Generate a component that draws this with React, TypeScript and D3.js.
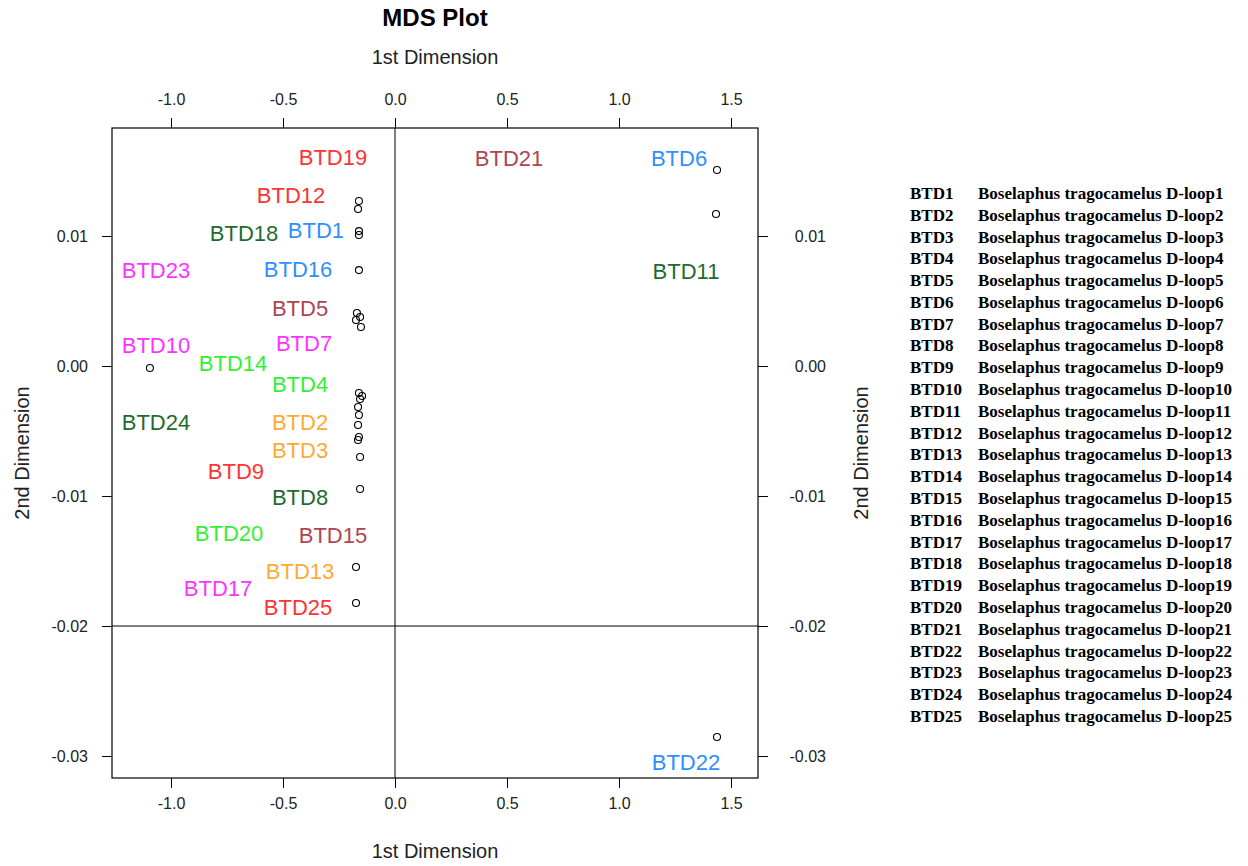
import { useEffect, useRef } from "react";
import * as d3 from "d3";

// MDS coordinates of each sample (1st and 2nd dimension)
const names = [
  "BTD1", "BTD2", "BTD3", "BTD4", "BTD5", "BTD6", "BTD7", "BTD8", "BTD9", "BTD10",
  "BTD11", "BTD12", "BTD13", "BTD14", "BTD15", "BTD16", "BTD17", "BTD18", "BTD19", "BTD20",
  "BTD21", "BTD22", "BTD23", "BTD24", "BTD25",
];
const dim1 = [
  -0.161, -0.165, -0.161, -0.147, -0.156, 1.4375, -0.174, -0.161, -0.165, -1.094,
  1.433, -0.165, -0.174, -0.161, -0.156, -0.161, -0.156, -0.161, -0.161, -0.165,
  -0.152, 1.4375, -0.17, -0.156, -0.174,
];
const dim2 = [
  0.01008, -0.00315, -0.00377, -0.00231, 0.00377, 0.01508, 0.00354, -0.00546, -0.00454, -0.00015,
  0.01169, 0.01208, -0.01546, -0.00208, -0.007, 0.00738, -0.00946, 0.01038, 0.01269, -0.00569,
  0.003, -0.02854, 0.00408, -0.00254, -0.01823,
];

// where each text label was placed (same units as the axes)
const labelX = [
  -0.353, -0.424, -0.424, -0.424, -0.424, 1.268, -0.406, -0.424, -0.71, -1.067,
  1.299, -0.464, -0.424, -0.723, -0.277, -0.433, -0.79, -0.674, -0.277, -0.741,
  0.509, 1.299, -1.067, -1.067, -0.433,
];
const labelY = [
  0.01046, -0.00431, -0.00646, -0.00138, 0.00446, 0.016, 0.00177, -0.01008, -0.00808, 0.00162,
  0.00731, 0.01315, -0.01577, 0.00023, -0.013, 0.00746, -0.01708, 0.01023, 0.01608, -0.01285,
  0.016, -0.03046, 0.00738, -0.00431, -0.01854,
];
const labelColors = [
  "#2f8fff", "#ffaa33", "#ffaa33", "#33f033", "#b04450", "#2f8fff", "#ff33ff", "#1f6b2f", "#ff3333", "#ff33ff",
  "#1f6b2f", "#ff3333", "#ffaa33", "#33f033", "#b04450", "#2f8fff", "#ff33ff", "#1f6b2f", "#ff3333", "#33f033",
  "#b04450", "#2f8fff", "#ff33ff", "#1f6b2f", "#ff3333",
];

const xTicks = [-1.0, -0.5, 0.0, 0.5, 1.0, 1.5];
const yTicks = [0.01, 0.0, -0.01, -0.02, -0.03];

const WIDTH = 1248;
const HEIGHT = 866;

export default function App() {
  const svgRef = useRef<SVGSVGElement>(null);

  useEffect(() => {
    if (!svgRef.current) return;
    const svg = d3.select(svgRef.current);
    svg.selectAll("*").remove();

    const left = 112, right = 758, top = 128, bottom = 778;
    const font = "'Liberation Sans', Arial, sans-serif";

    const x = d3.scaleLinear().domain([-1.2634, 1.6205]).range([left, right]);
    const y = d3.scaleLinear().domain([-0.03169, 0.01831]).range([bottom, top]);

    svg.append("rect")
      .attr("width", WIDTH).attr("height", HEIGHT).attr("fill", "#fff");

    // axes on all four sides
    const styleAxis = (sel: any) => {
      sel.select(".domain").remove();
      sel.selectAll(".tick line").attr("stroke", "#000").attr("stroke-width", 1);
      sel.selectAll("text")
        .attr("fill", "#222")
        .attr("font-family", font)
        .attr("font-size", "16px");
    };

    svg.append("g")
      .attr("transform", `translate(0,${top})`)
      .call(d3.axisTop(x).tickValues(xTicks).tickSize(10).tickPadding(13).tickFormat((d: any) => d.toFixed(1)))
      .call(styleAxis);

    svg.append("g")
      .attr("transform", `translate(0,${bottom})`)
      .call(d3.axisBottom(x).tickValues(xTicks).tickSize(10).tickPadding(10).tickFormat((d: any) => d.toFixed(1)))
      .call(styleAxis);

    svg.append("g")
      .attr("transform", `translate(${left},0)`)
      .call(d3.axisLeft(y).tickValues(yTicks).tickSize(10).tickPadding(14).tickFormat((d: any) => d.toFixed(2)))
      .call(styleAxis);

    // right-hand labels are right-aligned in the original
    const rightAxis = svg.append("g")
      .attr("transform", `translate(${right},0)`)
      .call(d3.axisRight(y).tickValues(yTicks).tickSize(10).tickPadding(58).tickFormat((d: any) => d.toFixed(2)))
      .call(styleAxis);
    rightAxis.selectAll("text").attr("text-anchor", "end");

    // box and reference lines
    svg.append("rect")
      .attr("x", left).attr("y", top)
      .attr("width", right - left).attr("height", bottom - top)
      .attr("fill", "none").attr("stroke", "#000").attr("stroke-width", 1.2);

    svg.append("line")
      .attr("x1", x(0)).attr("x2", x(0)).attr("y1", top).attr("y2", bottom)
      .attr("stroke", "#000");
    svg.append("line")
      .attr("x1", left).attr("x2", right).attr("y1", y(-0.02)).attr("y2", y(-0.02))
      .attr("stroke", "#000");

    // titles
    svg.append("text")
      .attr("x", (left + right) / 2).attr("y", 26)
      .attr("text-anchor", "middle")
      .attr("font-family", font).attr("font-weight", "bold").attr("font-size", "24px")
      .text("MDS Plot");

    const axisTitle = (tx: number, ty: number, rot: number, label: string) =>
      svg.append("text")
        .attr("transform", `translate(${tx},${ty}) rotate(${rot})`)
        .attr("text-anchor", "middle")
        .attr("fill", "#222")
        .attr("font-family", font).attr("font-size", "20px")
        .text(label);

    axisTitle((left + right) / 2, 64, 0, "1st Dimension");
    axisTitle((left + right) / 2, 858, 0, "1st Dimension");
    axisTitle(29, (top + bottom) / 2, -90, "2nd Dimension");
    axisTitle(868, (top + bottom) / 2, -90, "2nd Dimension");

    // labels
    svg.append("g")
      .selectAll("text")
      .data(names)
      .join("text")
      .attr("x", (_, i) => x(labelX[i]))
      .attr("y", (_, i) => y(labelY[i]))
      .attr("dy", "0.36em")
      .attr("text-anchor", "middle")
      .attr("font-family", font)
      .attr("font-size", "22px")
      .attr("fill", (_, i) => labelColors[i])
      .text((d) => d);

    // points
    svg.append("g")
      .selectAll("circle")
      .data(names)
      .join("circle")
      .attr("cx", (_, i) => x(dim1[i]))
      .attr("cy", (_, i) => y(dim2[i]))
      .attr("r", 3.5)
      .attr("fill", "none")
      .attr("stroke", "#000")
      .attr("stroke-width", 1.1);

    // sample key on the right
    const key = svg.append("g")
      .attr("font-family", "'Liberation Serif', 'Times New Roman', serif")
      .attr("font-weight", "bold")
      .attr("font-size", "17px");
    const rowY = d3.scalePoint<string>().domain(names).range([193, 716]);
    key.selectAll("text.id")
      .data(names)
      .join("text")
      .attr("class", "id")
      .attr("x", 910)
      .attr("y", (d) => rowY(d)!)
      .attr("dy", "0.35em")
      .text((d) => d);
    key.selectAll("text.desc")
      .data(names)
      .join("text")
      .attr("class", "desc")
      .attr("x", 978)
      .attr("y", (d) => rowY(d)!)
      .attr("dy", "0.35em")
      .text((d) => `Boselaphus tragocamelus D-loop${d.slice(3)}`);
  }, []);

  return (
    <svg
      ref={svgRef}
      width={WIDTH}
      height={HEIGHT}
      style={{ position: "absolute", left: 0, top: 0 }}
    />
  );
}
